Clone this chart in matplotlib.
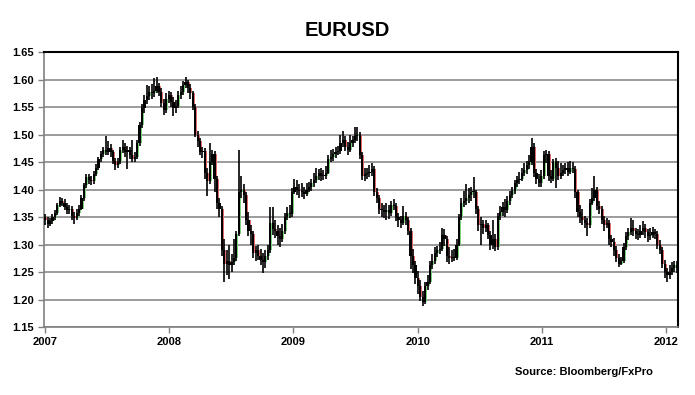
import matplotlib
matplotlib.use('Agg')
import matplotlib.pyplot as plt
import numpy as np

# weekly EURUSD bars (open = previous close)
first_open = 1.350
close = [1.345, 1.338, 1.343, 1.350, 1.358, 1.372, 1.380, 1.376, 1.368, 1.362,
         1.365, 1.352, 1.348, 1.358, 1.365, 1.385, 1.408, 1.422, 1.418, 1.415,
         1.428, 1.440, 1.455, 1.465, 1.472, 1.468, 1.475, 1.468, 1.452, 1.445,
         1.450, 1.472, 1.478, 1.468, 1.472, 1.462, 1.455, 1.460, 1.485, 1.518,
         1.548, 1.562, 1.570, 1.578, 1.575, 1.580, 1.588, 1.578, 1.558, 1.545,
         1.565, 1.572, 1.560, 1.548, 1.552, 1.572, 1.578, 1.590, 1.595, 1.585,
         1.575, 1.550, 1.500, 1.488, 1.468, 1.470, 1.430, 1.415, 1.450, 1.465,
         1.420, 1.375, 1.365, 1.290, 1.265, 1.270, 1.262, 1.268, 1.275, 1.320,
         1.395, 1.400, 1.390, 1.345, 1.325, 1.320, 1.285, 1.290, 1.280, 1.272,
         1.268, 1.280, 1.290, 1.340, 1.328, 1.325, 1.315, 1.310, 1.325, 1.350,
         1.358, 1.355, 1.395, 1.405, 1.400, 1.398, 1.395, 1.392, 1.400, 1.405,
         1.412, 1.418, 1.425, 1.430, 1.425, 1.425, 1.430, 1.455, 1.460, 1.465,
         1.468, 1.470, 1.485, 1.490, 1.478, 1.472, 1.485, 1.490, 1.498, 1.500,
         1.462, 1.425, 1.428, 1.430, 1.432, 1.438, 1.395, 1.385, 1.365, 1.362,
         1.360, 1.362, 1.358, 1.372, 1.370, 1.350, 1.345, 1.340, 1.352, 1.345,
         1.325, 1.280, 1.262, 1.240, 1.225, 1.205, 1.195, 1.225, 1.232, 1.262,
         1.270, 1.285, 1.290, 1.292, 1.318, 1.310, 1.280, 1.275, 1.278, 1.275,
         1.300, 1.350, 1.375, 1.380, 1.385, 1.390, 1.395, 1.395, 1.365, 1.335,
         1.338, 1.330, 1.335, 1.318, 1.300, 1.310, 1.295, 1.352, 1.360, 1.368,
         1.362, 1.380, 1.390, 1.398, 1.412, 1.418, 1.420, 1.430, 1.435, 1.445,
         1.450, 1.478, 1.430, 1.420, 1.412, 1.425, 1.462, 1.465, 1.425, 1.420,
         1.450, 1.440, 1.425, 1.430, 1.435, 1.440, 1.432, 1.440, 1.438, 1.395,
         1.360, 1.350, 1.345, 1.340, 1.335, 1.375, 1.385, 1.400, 1.370, 1.365,
         1.345, 1.335, 1.340, 1.310, 1.305, 1.290, 1.275, 1.265, 1.270, 1.295,
         1.315, 1.322, 1.330, 1.325, 1.320, 1.318, 1.325, 1.330, 1.322, 1.315,
         1.318, 1.322, 1.320, 1.300, 1.290, 1.265, 1.250, 1.245, 1.250, 1.258,
         1.262, 1.258]
high = [1.356, 1.350, 1.348, 1.356, 1.363, 1.376, 1.386, 1.385, 1.382, 1.375,
        1.372, 1.370, 1.360, 1.364, 1.372, 1.390, 1.412, 1.428, 1.428, 1.424,
        1.434, 1.446, 1.460, 1.470, 1.478, 1.497, 1.488, 1.482, 1.472, 1.458,
        1.458, 1.478, 1.490, 1.484, 1.480, 1.478, 1.490, 1.468, 1.490, 1.522,
        1.555, 1.572, 1.590, 1.588, 1.592, 1.602, 1.604, 1.594, 1.584, 1.565,
        1.575, 1.580, 1.578, 1.568, 1.562, 1.580, 1.588, 1.598, 1.604, 1.600,
        1.592, 1.580, 1.555, 1.506, 1.494, 1.478, 1.475, 1.440, 1.484, 1.472,
        1.470, 1.425, 1.385, 1.370, 1.310, 1.290, 1.300, 1.282, 1.310, 1.325,
        1.472, 1.425, 1.410, 1.395, 1.360, 1.335, 1.325, 1.298, 1.300, 1.292,
        1.285, 1.290, 1.300, 1.368, 1.368, 1.345, 1.335, 1.330, 1.338, 1.358,
        1.368, 1.372, 1.402, 1.420, 1.418, 1.410, 1.412, 1.405, 1.412, 1.414,
        1.420, 1.430, 1.440, 1.438, 1.440, 1.436, 1.442, 1.462, 1.472, 1.474,
        1.478, 1.480, 1.500, 1.506, 1.498, 1.486, 1.500, 1.498, 1.514, 1.514,
        1.505, 1.468, 1.440, 1.440, 1.445, 1.448, 1.442, 1.402, 1.390, 1.375,
        1.372, 1.375, 1.372, 1.380, 1.382, 1.375, 1.358, 1.352, 1.370, 1.360,
        1.350, 1.330, 1.292, 1.270, 1.252, 1.235, 1.215, 1.232, 1.245, 1.270,
        1.282, 1.295, 1.298, 1.305, 1.330, 1.328, 1.315, 1.295, 1.290, 1.292,
        1.310, 1.355, 1.385, 1.398, 1.410, 1.402, 1.405, 1.422, 1.400, 1.370,
        1.350, 1.345, 1.345, 1.340, 1.325, 1.345, 1.320, 1.358, 1.370, 1.378,
        1.382, 1.388, 1.398, 1.405, 1.418, 1.425, 1.432, 1.440, 1.448, 1.452,
        1.462, 1.494, 1.484, 1.438, 1.428, 1.435, 1.470, 1.472, 1.470, 1.435,
        1.455, 1.458, 1.452, 1.448, 1.445, 1.448, 1.450, 1.452, 1.450, 1.442,
        1.400, 1.372, 1.365, 1.352, 1.348, 1.382, 1.402, 1.425, 1.405, 1.380,
        1.370, 1.352, 1.348, 1.345, 1.318, 1.312, 1.298, 1.282, 1.278, 1.302,
        1.322, 1.330, 1.348, 1.345, 1.330, 1.328, 1.335, 1.342, 1.338, 1.328,
        1.330, 1.332, 1.328, 1.325, 1.308, 1.295, 1.272, 1.258, 1.262, 1.268,
        1.270, 1.270]
low = [1.336, 1.330, 1.333, 1.338, 1.345, 1.354, 1.368, 1.370, 1.362, 1.356,
       1.355, 1.345, 1.337, 1.344, 1.352, 1.362, 1.380, 1.402, 1.410, 1.408,
       1.410, 1.424, 1.436, 1.450, 1.460, 1.462, 1.463, 1.460, 1.446, 1.435,
       1.440, 1.446, 1.466, 1.460, 1.438, 1.455, 1.450, 1.450, 1.456, 1.480,
       1.512, 1.540, 1.555, 1.562, 1.565, 1.568, 1.575, 1.570, 1.550, 1.535,
       1.540, 1.558, 1.550, 1.533, 1.540, 1.548, 1.565, 1.572, 1.585, 1.575,
       1.565, 1.545, 1.495, 1.478, 1.462, 1.458, 1.420, 1.388, 1.410, 1.445,
       1.395, 1.365, 1.350, 1.280, 1.232, 1.245, 1.238, 1.250, 1.262, 1.270,
       1.315, 1.385, 1.375, 1.335, 1.315, 1.300, 1.275, 1.270, 1.272, 1.262,
       1.248, 1.258, 1.272, 1.285, 1.318, 1.312, 1.300, 1.296, 1.305, 1.320,
       1.345, 1.348, 1.350, 1.392, 1.390, 1.385, 1.386, 1.382, 1.388, 1.395,
       1.398, 1.405, 1.412, 1.418, 1.415, 1.418, 1.420, 1.428, 1.450, 1.452,
       1.458, 1.462, 1.465, 1.478, 1.470, 1.462, 1.468, 1.478, 1.485, 1.488,
       1.455, 1.418, 1.415, 1.420, 1.422, 1.425, 1.388, 1.375, 1.355, 1.350,
       1.348, 1.345, 1.346, 1.352, 1.362, 1.342, 1.332, 1.330, 1.336, 1.335,
       1.318, 1.255, 1.248, 1.228, 1.210, 1.198, 1.188, 1.192, 1.218, 1.228,
       1.255, 1.265, 1.278, 1.282, 1.288, 1.298, 1.268, 1.265, 1.268, 1.270,
       1.272, 1.298, 1.345, 1.368, 1.372, 1.375, 1.380, 1.385, 1.355, 1.325,
       1.300, 1.320, 1.322, 1.310, 1.290, 1.292, 1.288, 1.290, 1.345, 1.352,
       1.350, 1.358, 1.372, 1.385, 1.392, 1.405, 1.410, 1.415, 1.425, 1.428,
       1.438, 1.445, 1.422, 1.410, 1.404, 1.405, 1.420, 1.448, 1.415, 1.412,
       1.415, 1.402, 1.418, 1.420, 1.425, 1.428, 1.425, 1.428, 1.430, 1.385,
       1.350, 1.340, 1.335, 1.330, 1.315, 1.330, 1.372, 1.380, 1.362, 1.355,
       1.338, 1.325, 1.330, 1.300, 1.295, 1.280, 1.268, 1.260, 1.262, 1.266,
       1.290, 1.308, 1.318, 1.315, 1.310, 1.308, 1.312, 1.318, 1.312, 1.305,
       1.308, 1.312, 1.310, 1.292, 1.282, 1.258, 1.240, 1.232, 1.238, 1.245,
       1.250, 1.248]
year_labels = ['2007', '2008', '2009', '2010', '2011', '2012']

close = np.array(close)
high = np.array(high)
low = np.array(low)
opn = np.concatenate([[first_open], close[:-1]])
x = np.arange(len(close))
up = close >= opn

plt.rcParams['font.family'] = ['Liberation Sans', 'DejaVu Sans']
plt.rcParams['font.weight'] = 'bold'

fig = plt.figure(figsize=(6.95, 3.95), dpi=100)
ax = fig.add_axes([0.0633, 0.172, 0.9122, 0.6962])

ax.set_axisbelow(True)
ax.grid(axis='y', color='#808080', linewidth=1.1)

bottom = np.minimum(opn, close)
height = np.maximum(np.abs(close - opn), 0.002)
edge = np.where(up, '#7ccf7c', '#e06a6a')
ax.bar(x + 0.45, height, bottom=bottom, width=0.8, color=edge, zorder=2)
ax.vlines(x, low, high, color='black', linewidth=1.2, zorder=3)
ax.bar(x, height, bottom=bottom, width=0.9, color='black', zorder=3)

ax.set_ylim(1.15, 1.65)
ax.set_yticks(np.arange(1.15, 1.651, 0.05))
ax.yaxis.set_major_formatter(plt.FormatStrFormatter('%.2f'))
ax.set_xlim(-0.5, len(close) - 0.5)
ax.set_xticks(np.arange(len(year_labels)) * 51.3)
ax.set_xticklabels(year_labels)

ax.tick_params(axis='both', labelsize=8, colors='#808080', labelcolor='black',
               length=4, width=1)
ax.tick_params(axis='x', pad=3)
for s in ['left', 'bottom']:
    ax.spines[s].set_color('#808080')
    ax.spines[s].set_linewidth(1.2)
for s in ['top', 'right']:
    ax.spines[s].set_color('black')
    ax.spines[s].set_linewidth(1.5)

fig.text(0.4993, 0.923, 'EURUSD', ha='center', va='center', fontsize=14.5, fontweight='bold')
fig.text(0.840, 0.057, 'Source: Bloomberg/FxPro', ha='center', va='center',
         fontsize=8, fontweight='bold')

fig.savefig('out.png', dpi=100)
